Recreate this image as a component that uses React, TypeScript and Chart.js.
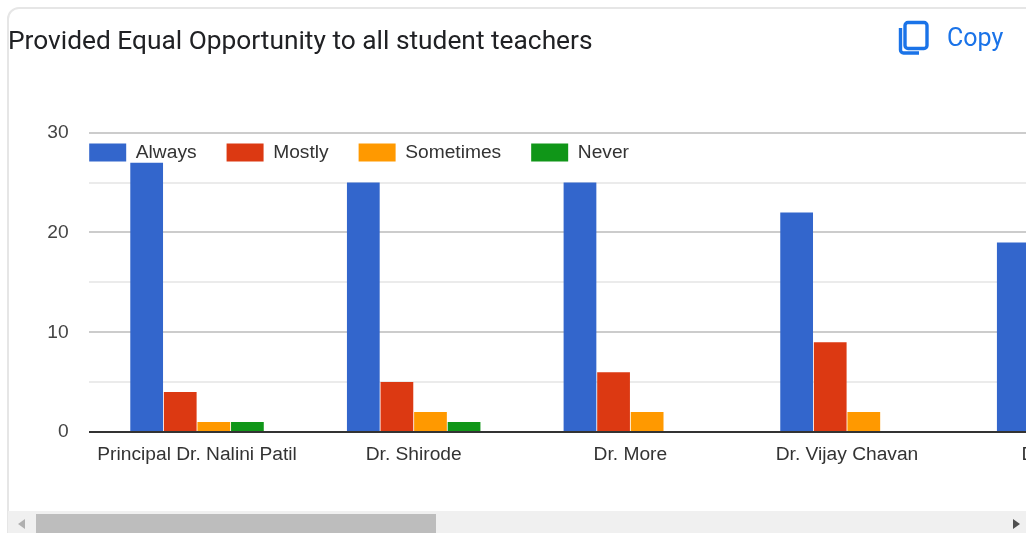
import React, { useEffect, useRef } from "react";
import { Chart, registerables } from "chart.js";

Chart.register(...registerables);

const titleText = "Provided Equal Opportunity to all student teachers";
const categories = ["Principal Dr. Nalini Patil", "Dr. Shirode", "Dr. More", "Dr. Vijay Chavan", "Dr. Pawar"];
const always = [27, 25, 25, 22, 19];
const mostly = [4, 5, 6, 9, 11];
const sometimes = [1, 2, 2, 2, 3];
const never = [1, 1, 0, 0, 0];

const legendPlacement = {
  id: "legendPlacement",
  afterLayout(chart: any) {
    chart.legend.left = chart.chartArea.left - 29.5;
    chart.legend.top = 113;
    chart.legend.bottom = 175;
    chart.legend.right = chart.width;
  },
};

export default function App() {
  const ref = useRef<HTMLCanvasElement>(null);
  useEffect(() => {
    const chart = new Chart(ref.current!, {
      type: "bar",
      plugins: [legendPlacement],
      data: {
        labels: categories,
        datasets: [
          { label: "Always", data: always, backgroundColor: "#3366cc" },
          { label: "Mostly", data: mostly, backgroundColor: "#dc3912" },
          { label: "Sometimes", data: sometimes, backgroundColor: "#ff9900" },
          { label: "Never", data: never, backgroundColor: "#109618" },
        ],
      },
      options: {
        animation: false,
        responsive: false,
        layout: { padding: { left: 8, right: 0, top: 0, bottom: 0 } },
        datasets: { bar: { categoryPercentage: 0.62, barPercentage: 0.975 } },
        plugins: {
          tooltip: { enabled: false },
          title: {
            display: true,
            text: titleText,
            align: "start",
            color: "#202124",
            font: { family: "Roboto", size: 26.3, weight: "normal", lineHeight: 1.2 },
            padding: { top: 27, bottom: 14.94 },
          },
          legend: {
            position: "top",
            align: "start",
            labels: {
              boxWidth: 37,
              boxHeight: 18,
              padding: 30,
              color: "#333333",
              font: { family: "Liberation Sans", size: 19.2 },
            },
          },
        },
        scales: {
          x: {
            grid: { display: false, drawTicks: false },
            border: { display: false },
            afterFit(s: any) { s.height = 101; },
            ticks: {
              autoSkip: false,
              maxRotation: 0,
              padding: 11,
              color: "#333333",
              font: { family: "Liberation Sans", size: 19.2 },
            },
          },
          y: {
            min: 0,
            max: 30,
            afterFit(s: any) { s.width = 80.7; },
            border: { display: false },
            grid: {
              drawTicks: false,
              color: (c: any) => (c.tick.value === 0 ? "#333333" : c.tick.value % 10 === 0 ? "#cccccc" : "#ebebeb"),
              lineWidth: 2,
            },
            ticks: {
              stepSize: 5,
              padding: 20,
              color: "#444444",
              font: { family: "Liberation Sans", size: 19.2 },
              callback: (v: any) => (Number(v) % 10 === 0 ? String(v) : ""),
            },
          },
        },
      } as any,
    });
    return () => chart.destroy();
  }, []);

  return (
    <div style={{ position: "fixed", left: 0, top: 0, width: 1026, height: 533, overflow: "hidden", background: "#fff" }}>
      <canvas ref={ref} width={1172} height={533} style={{ position: "absolute", left: 0, top: 0, width: 1172, height: 533 }} />
      <div style={{ position: "absolute", left: 7, top: 7, width: 1100, height: 560, boxSizing: "border-box", border: "2px solid #e6e6e6", borderRadius: 12, pointerEvents: "none" }} />
      <svg width="32" height="36" viewBox="0 0 32 36" style={{ position: "absolute", left: 898, top: 20 }}>
        <path d="M8 2.5h16a3 3 0 0 1 3 3v20a3 3 0 0 1-3 3H8a3 3 0 0 1-3-3v-20a3 3 0 0 1 3-3z" transform="translate(2 0)" fill="none" stroke="#1a73e8" strokeWidth="3.4" />
        <path d="M2.5 8v22a3 3 0 0 0 3 3H21" fill="none" stroke="#1a73e8" strokeWidth="3.4" />
      </svg>
      <div style={{ position: "absolute", left: 947, top: 23, fontFamily: "Roboto", fontSize: 25, lineHeight: "30px", color: "#1a73e8" }}>Copy</div>
      <div style={{ position: "absolute", left: 8, top: 511, width: 1018, height: 22, background: "#f0f0f0" }} />
      <div style={{ position: "absolute", left: 36, top: 514, width: 400, height: 19, background: "#bdbdbd" }} />
      <div style={{ position: "absolute", left: 18, top: 519, width: 0, height: 0, borderTop: "5px solid transparent", borderBottom: "5px solid transparent", borderRight: "7px solid #b0b0b0" }} />
      <div style={{ position: "absolute", left: 1013, top: 519, width: 0, height: 0, borderTop: "5px solid transparent", borderBottom: "5px solid transparent", borderLeft: "7px solid #505050" }} />
    </div>
  );
}
